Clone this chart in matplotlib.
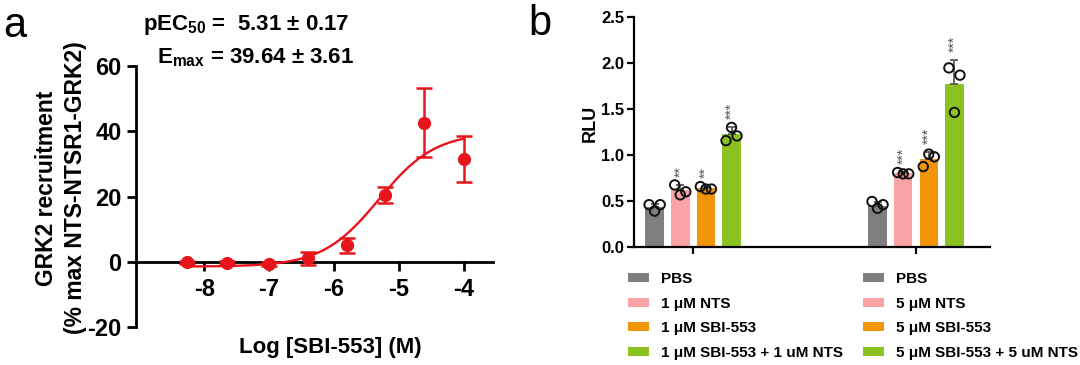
import numpy as np
import matplotlib.pyplot as plt

plt.rcParams['font.family'] = ['Liberation Sans', 'DejaVu Sans']
plt.rcParams['font.weight'] = 'bold'
plt.rcParams['axes.unicode_minus'] = False
plt.rcParams['mathtext.fontset'] = 'custom'
plt.rcParams['mathtext.rm'] = 'Liberation Sans'
plt.rcParams['mathtext.bf'] = 'Liberation Sans:bold'

# panel a: dose response
log_conc = [-8.26, -7.65, -7.0, -6.4, -5.8, -5.22, -4.62, -4.0]
resp = [-0.2, -0.3, -0.8, 1.0, 5.0, 20.5, 42.6, 31.5]
resp_err = [0.5, 0.5, 0.6, 2.0, 2.4, 2.5, 10.6, 7.0]
fit_bottom = -1.5
fit_top = 39.64
fit_logec50 = -5.31
fit_hill = 1.0

# panel b: RLU bars
labels_1 = ["PBS", "1 μM NTS", "1 μM SBI-553", "1 μM SBI-553 + 1 uM NTS"]
labels_5 = ["PBS", "5 μM NTS", "5 μM SBI-553", "5 μM SBI-553 + 5 uM NTS"]
means_1 = [0.43, 0.62, 0.64, 1.23]
means_5 = [0.45, 0.80, 0.96, 1.77]
err_1 = [0.04, 0.05, 0.02, 0.07]
err_5 = [0.04, 0.01, 0.07, 0.26]
points_1 = [[0.46, 0.39, 0.46], [0.675, 0.567, 0.60], [0.657, 0.63, 0.63], [1.156, 1.30, 1.207]]
points_5 = [[0.495, 0.42, 0.46], [0.81, 0.795, 0.795], [0.874, 1.01, 0.98], [1.947, 1.463, 1.868]]
stars_1 = ["", "**", "**", "***"]
stars_5 = ["", "***", "***", "***"]
colors = ["#7f7f7f", "#f9a3a6", "#f29408", "#8cc21f"]

red = "#e8141c"

fig = plt.figure(figsize=(10.8, 3.65), dpi=100)

# ---- panel a
ax = fig.add_axes([136/1080, 1-327/365, (493-136)/1080, (327-66)/365])
xx = np.linspace(min(log_conc), max(log_conc), 300)
yy = fit_bottom + (fit_top - fit_bottom) / (1 + 10**((fit_logec50 - xx) * fit_hill))
ax.plot(xx, yy, color=red, lw=1.7, zorder=3)
ax.errorbar(log_conc, resp, yerr=resp_err, fmt='o', color=red, ms=8.5,
            capsize=5.5, capthick=1.8, elinewidth=1.8, zorder=4)
ax.set_xlim(-9.05, -3.55)
ax.set_ylim(-20, 60)
ax.spines['top'].set_visible(False)
ax.spines['right'].set_visible(False)
ax.spines['bottom'].set_position(('data', 0))
for s in ['left', 'bottom']:
    ax.spines[s].set_linewidth(2)
ax.set_xticks([-8, -7, -6, -5, -4])
ax.set_yticks([-20, 0, 20, 40, 60])
ax.tick_params(width=2, length=6.5, labelsize=17, pad=4)
ax.tick_params(axis='x', pad=5)
fig.text(47/1080, 1-188/365, "GRK2 recruitment", rotation=90, ha='center', va='center', fontsize=16.5)
fig.text(76/1080, 1-188/365, "(% max NTS-NTSR1-GRK2)", rotation=90, ha='center', va='center', fontsize=16.5)
fig.text(330/1080, 1-347/365, "Log [SBI-553] (M)", ha='center', va='center', fontsize=16)
fig.text(246/1080, 1-25/365, r"pEC$_{\rm 50}$ =  5.31 ± 0.17", ha='center', va='center', fontsize=16)
fig.text(256/1080, 1-58/365, r"E$_{\rm max}$ = 39.64 ± 3.61", ha='center', va='center', fontsize=16)
fig.text(3/1080, 1-26/365, "a", fontsize=30, fontweight='normal', ha='left', va='center')

# ---- panel b
bx = fig.add_axes([634/1080, 1-247/365, (990-634)/1080, (247-17)/365])
width = 0.083
step = 0.115
jitter = np.array([-0.3, 0.0, 0.3]) * width
handles = []
for g, (means, errs, pts, stars) in enumerate([(means_1, err_1, points_1, stars_1),
                                                (means_5, err_5, points_5, stars_5)]):
    hs = []
    for i in range(4):
        x = g + (i - 1.5) * step
        b = bx.bar(x, means[i], width=width, color=colors[i], zorder=2)
        bx.errorbar(x, means[i], yerr=[[0], [errs[i]]], fmt='none', ecolor='#5a5a5a',
                    elinewidth=1.3, capsize=3, capthick=1.3, zorder=3)
        bx.scatter(x + jitter, pts[i], s=46, facecolors='none', edgecolors='#111111',
                   linewidths=1.4, zorder=4)
        if stars[i]:
            top = max(means[i] + errs[i], max(pts[i]))
            bx.text(x, top + 0.09, stars[i], rotation=90, ha='center', va='bottom',
                    fontsize=10, fontweight='normal', color='#555555')
        hs.append(b)
    handles.append(hs)
bx.set_xlim(-0.265, 1.332)
bx.set_ylim(0, 2.5)
bx.set_xticks([0, 1])
bx.set_xticklabels([])
bx.set_yticks([0, 0.5, 1.0, 1.5, 2.0, 2.5])
bx.set_yticklabels(["0.0", "0.5", "1.0", "1.5", "2.0", "2.5"])
bx.spines['top'].set_visible(False)
bx.spines['right'].set_visible(False)
for s in ['left', 'bottom']:
    bx.spines[s].set_linewidth(1.6)
bx.tick_params(width=1.6, length=5, labelsize=12, pad=2)
fig.text(590/1080, 1-123/365, "RLU", rotation=90, ha='center', va='center', fontsize=13)
fig.text(528/1080, 1-24/365, "b", fontsize=30, fontweight='normal', ha='left', va='center')

leg_kw = dict(frameon=False, fontsize=11, handlelength=1.4, handleheight=0.55,
              labelspacing=0.69, handletextpad=0.75, borderpad=0, borderaxespad=0)
leg1 = fig.legend(handles[0], labels_1, loc='upper left',
                  bbox_to_anchor=(628/1080, 1-272/365), **leg_kw)
leg2 = fig.legend(handles[1], labels_5, loc='upper left',
                  bbox_to_anchor=(863/1080, 1-272/365), **leg_kw)

fig.savefig("out.png", dpi=100)
